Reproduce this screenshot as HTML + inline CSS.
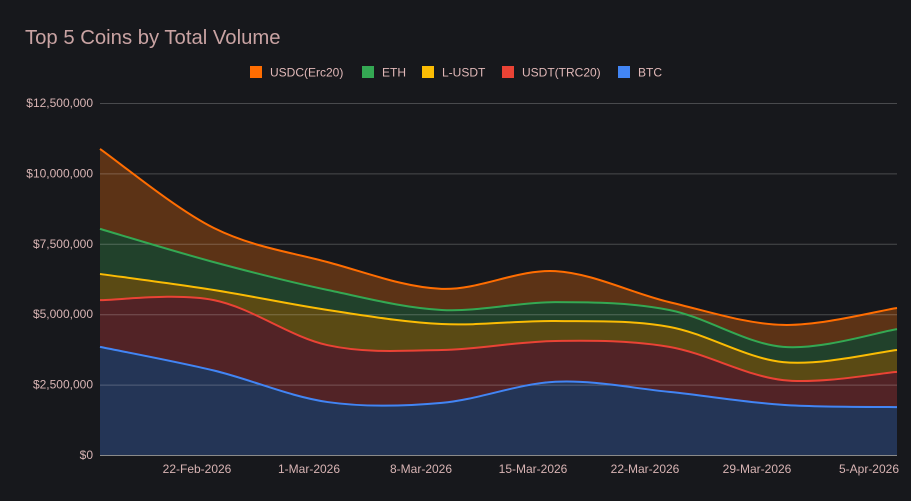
<!DOCTYPE html>
<html><head><meta charset="utf-8"><style>
body{margin:0;background:#17181c;}
svg{display:block;font-family:"Liberation Sans",sans-serif;}
</style></head><body>
<svg id="chart" width="911" height="501">
<rect width="911" height="501" fill="#17181c"/>
<text x="25" y="44" font-size="20.3" fill="#c9a3a3">Top 5 Coins by Total Volume</text>
<g id="legend"></g>
<g id="areas"></g>
<g id="grid"></g>
<g id="lines"></g>
<g id="yaxis"></g>
<g id="xaxis"></g>
</svg>
<script>
const seriesNames = ["BTC","USDT(TRC20)","L-USDT","ETH","USDC(Erc20)"];
const btc  = [3840000,3000000,1880000,1850000,2600000,2240000,1780000,1700000];
const usdt = [1660000,2500000,2020000,1880000,1450000,1600000,880000,1250000];
const lusdt= [930000,360000,1250000,920000,710000,710000,640000,780000];
const eth  = [1600000,990000,710000,500000,670000,600000,540000,740000];
const usdc = [2840000,1210000,990000,750000,1100000,280000,780000,750000];
const yTicks = [0,2500000,5000000,7500000,10000000,12500000];
const yTickLabels = ["$0","$2,500,000","$5,000,000","$7,500,000","$10,000,000","$12,500,000"];
const xTickDays = [6,13,20,27,34,41,48];
const xTickLabels = ["22-Feb-2026","1-Mar-2026","8-Mar-2026","15-Mar-2026","22-Mar-2026","29-Mar-2026","5-Apr-2026"];

const lineColors=["#4285f4","#ea4335","#fbbc04","#34a853","#ff6d01"];
const fillColors=["#243556","#522326","#5a4a14","#21412b","#5c3316"];
const NS="http://www.w3.org/2000/svg";
const X0=100,X1=897,Y0=455,Y1=103;
const yScale=v=>Y0-(v/12500000)*(Y0-Y1);
const n=btc.length;
const xIdx=i=>X0+i*(X1-X0)/(n-1);
const xDay=d=>197+(d-6)*16;
function mk(tag,attrs,parent){const e=document.createElementNS(NS,tag);for(const k in attrs)e.setAttribute(k,attrs[k]);parent.appendChild(e);return e;}
const data=[btc,usdt,lusdt,eth,usdc];
const tops=[];let acc=new Array(n).fill(0);
data.forEach(s=>{acc=acc.map((a,i)=>a+s[i]);tops.push(acc.slice());});
function pts(arr){return arr.map((v,i)=>[xIdx(i),yScale(v)]);}
function spline(p){let d="";for(let i=0;i<p.length-1;i++){const p0=p[i-1]||p[i],p1=p[i],p2=p[i+1],p3=p[i+2]||p2;
const t=6;const c1=[p1[0]+(p2[0]-p0[0])/t,p1[1]+(p2[1]-p0[1])/t];const c2=[p2[0]-(p3[0]-p1[0])/t,p2[1]-(p3[1]-p1[1])/t];
d+=` C${c1[0]},${c1[1]} ${c2[0]},${c2[1]} ${p2[0]},${p2[1]}`;}return d;}
const areas=document.getElementById('areas'),lines=document.getElementById('lines');
for(let s=0;s<5;s++){
 const up=pts(tops[s]);const lo=s?pts(tops[s-1]).reverse():[[X1,Y0],[X0,Y0]];
 let d=`M${up[0][0]},${up[0][1]}`+spline(up);
 if(s){d+=` L${lo[0][0]},${lo[0][1]}`+spline(lo);}else{d+=` L${X1},${Y0} L${X0},${Y0}`;}
 d+="Z";
 const a=mk('path',{d:d,fill:fillColors[s]},areas);
 
 
 const l=mk('path',{d:`M${up[0][0]},${up[0][1]}`+spline(up),fill:'none',stroke:lineColors[s],'stroke-width':2},lines);
 
 
}
const grid=document.getElementById('grid'),ya=document.getElementById('yaxis'),xa=document.getElementById('xaxis');
yTicks.forEach((v,i)=>{
 const g=mk('line',{x1:X0,x2:X1,y1:yScale(v)+.5,y2:yScale(v)+.5,stroke:i?'rgba(255,255,255,0.22)':'#8a8a8a','stroke-width':1},grid);
 
 
 const t=mk('text',{x:93,y:yScale(v)+4,'text-anchor':'end','font-size':12,fill:'#d8b4b4'},ya);
 t.textContent=yTickLabels[i];
 
 
});
xTickDays.forEach((d,i)=>{
 const t=mk('text',{x:xDay(d),y:473,'text-anchor':'middle','font-size':12,fill:'#d8b4b4'},xa);
 t.textContent=xTickLabels[i];
 
 
});
const legend=document.getElementById('legend');
const legOrder=[4,3,2,1,0];const legX=[250,362,422,502,618];
legOrder.forEach((s,j)=>{
 const g=mk('g',{},legend);
 
 
 mk('rect',{x:legX[j],y:66,width:12,height:12,fill:lineColors[s]},g);
 const t=mk('text',{x:legX[j]+20,y:76.5,'font-size':12,fill:'#e0b8b8'},g);
 t.textContent=seriesNames[s];
});
</script>
</body></html>
